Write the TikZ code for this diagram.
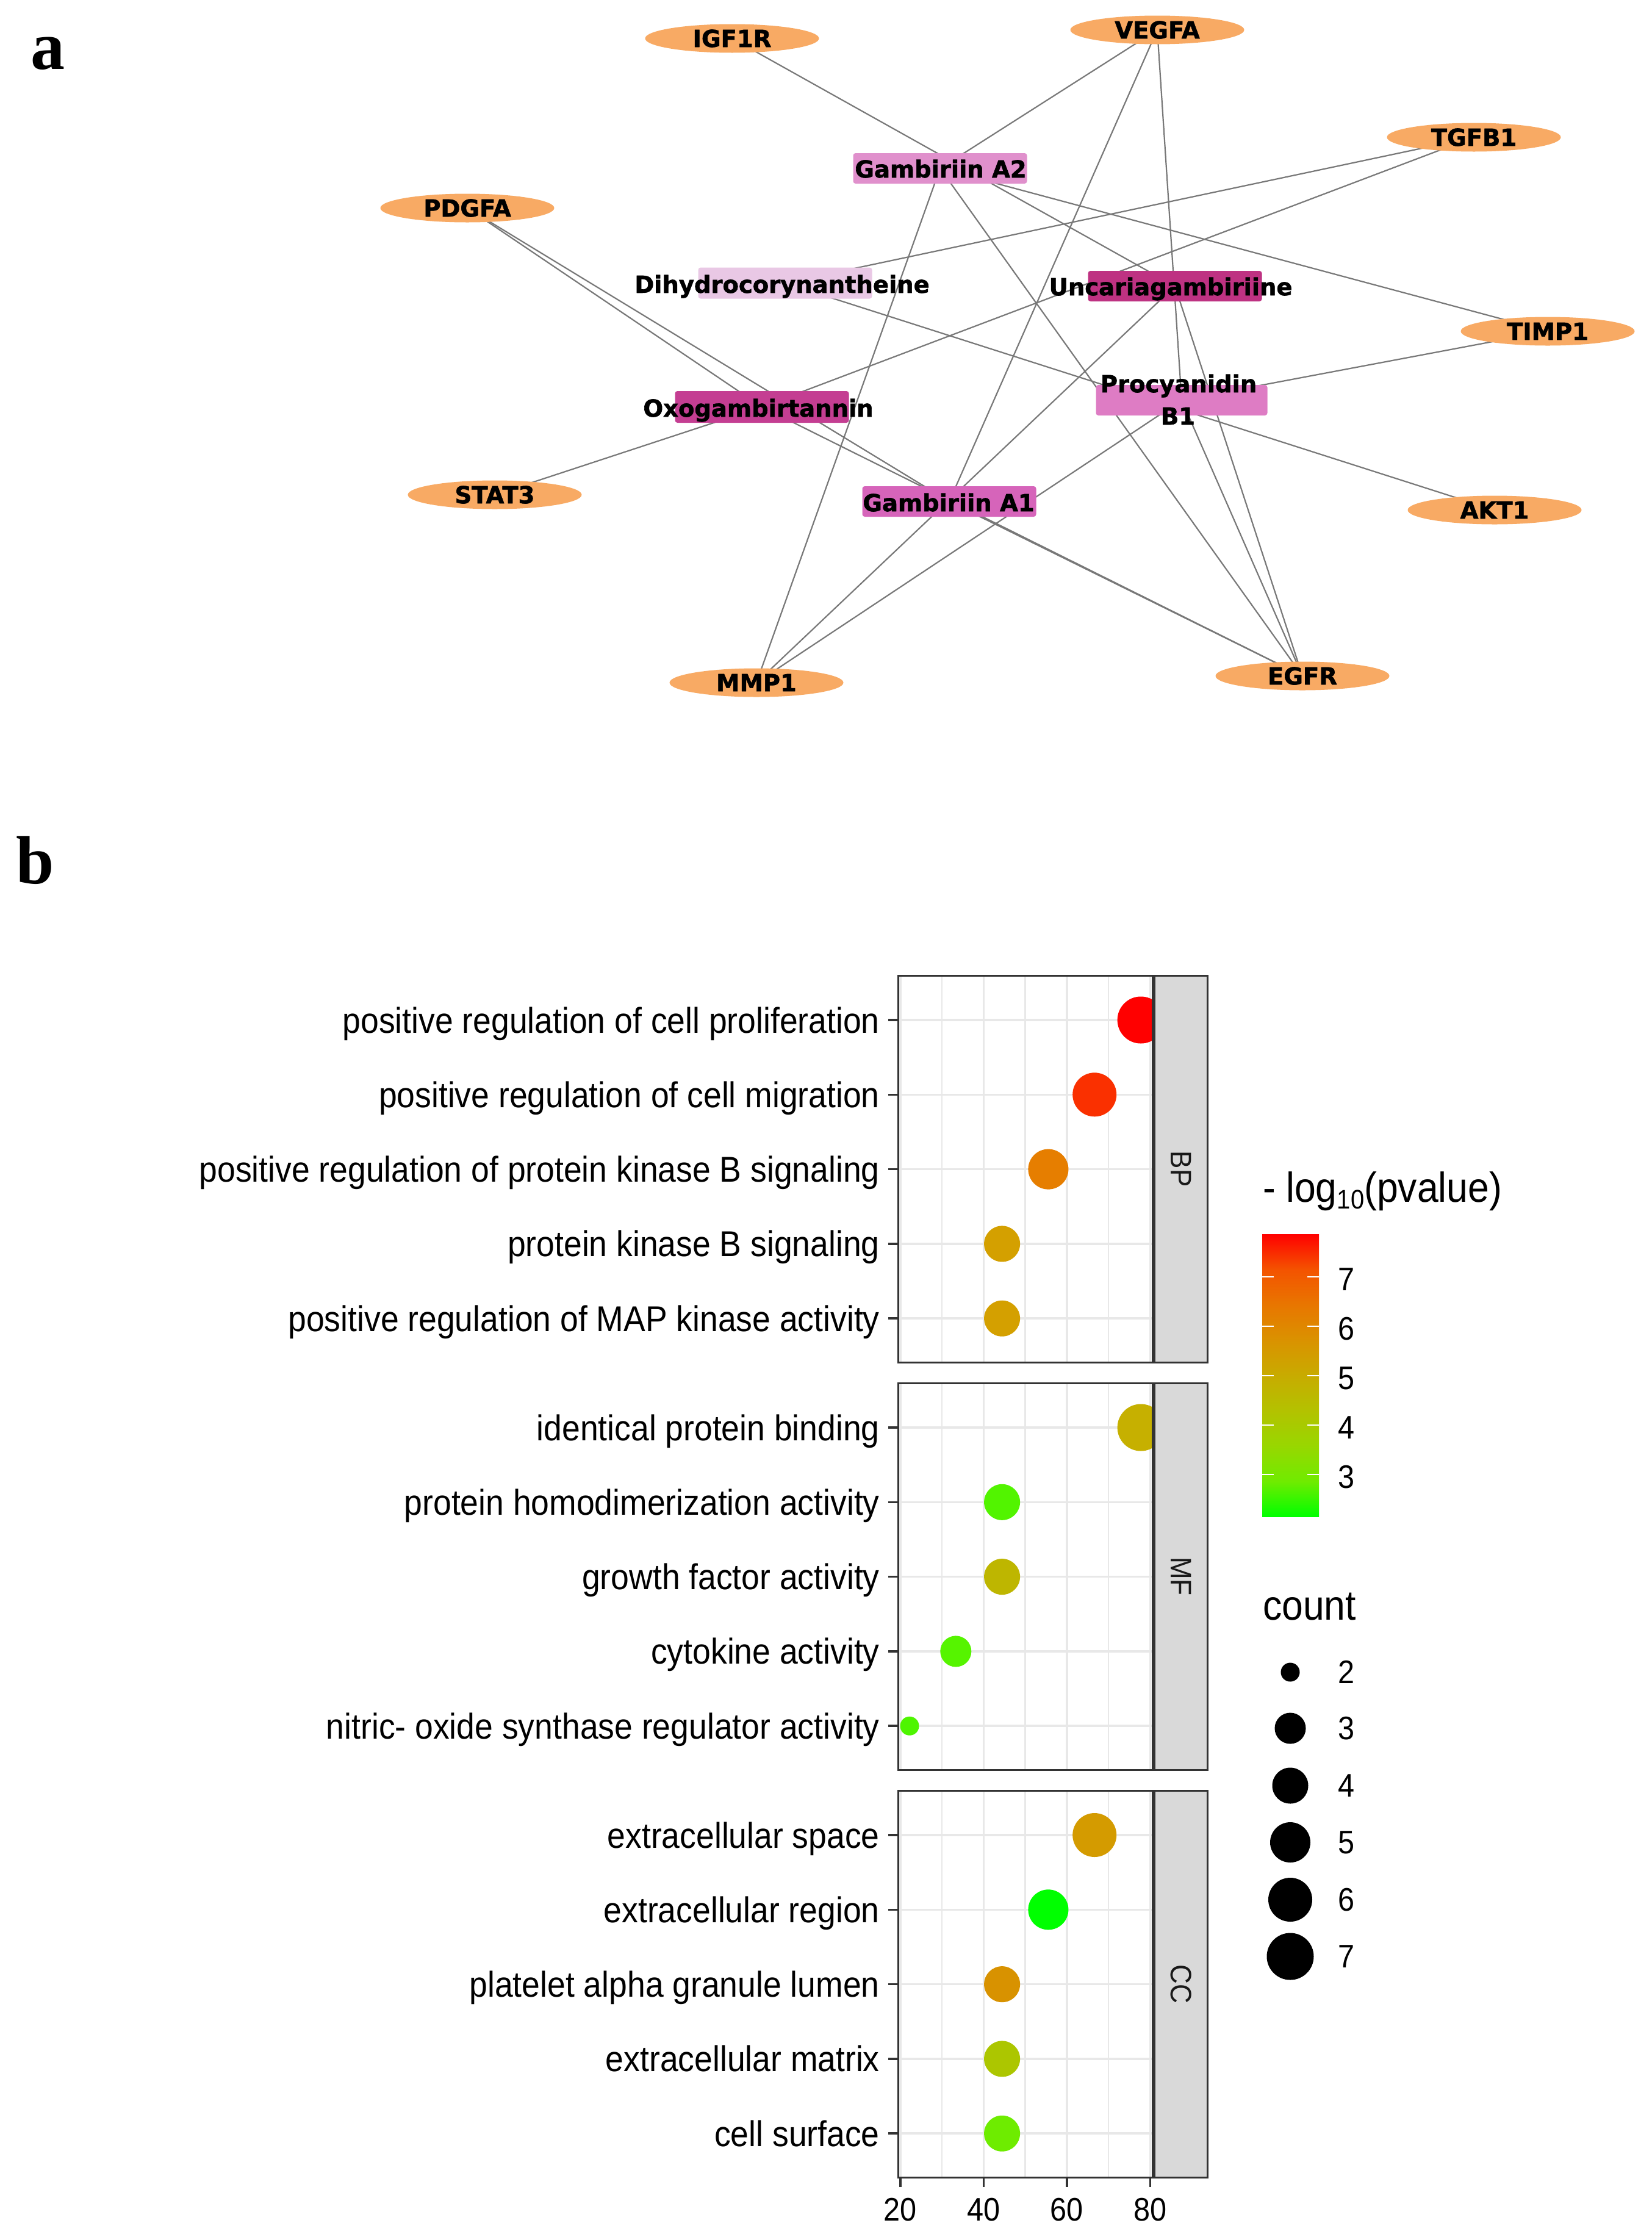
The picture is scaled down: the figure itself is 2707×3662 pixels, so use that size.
\documentclass[tikz,border=0pt]{standalone}
\usepackage{fontspec}
\usepackage{graphicx}
\setmainfont{Liberation Sans}
\newfontfamily\netfont{DejaVu Sans}[BoldFeatures={FakeBold=1.5}]
\newfontfamily\panelfont{Liberation Serif}
\usetikzlibrary{shapes.geometric,backgrounds}

\definecolor{tgtorange}{RGB}{248,170,100}
\definecolor{cGAtwo}{RGB}{224,144,204}
\definecolor{cDihy}{RGB}{233,200,229}
\definecolor{cUnca}{RGB}{190,50,130}
\definecolor{cOxo}{RGB}{196,62,146}
\definecolor{cGAone}{RGB}{214,100,186}
\definecolor{cProc}{RGB}{222,124,196}
\definecolor{edgegray}{RGB}{120,120,120}
\definecolor{gridgray}{RGB}{232,232,232}
\definecolor{bordergray}{RGB}{51,51,51}
\definecolor{stripgray}{RGB}{217,217,217}
% dot colours
\definecolor{dProl}{RGB}{255,0,0}
\definecolor{dMigr}{RGB}{250,48,0}
\definecolor{dPkbp}{RGB}{230,126,0}
\definecolor{dPkbs}{RGB}{212,160,0}
\definecolor{dMap}{RGB}{212,160,0}
\definecolor{dIden}{RGB}{198,176,0}
\definecolor{dHomo}{RGB}{82,244,0}
\definecolor{dGrow}{RGB}{190,182,0}
\definecolor{dCyto}{RGB}{86,244,0}
\definecolor{dNitr}{RGB}{78,245,0}
\definecolor{dSpac}{RGB}{212,155,0}
\definecolor{dRegi}{RGB}{0,255,0}
\definecolor{dLume}{RGB}{216,146,0}
\definecolor{dMatr}{RGB}{172,198,0}
\definecolor{dSurf}{RGB}{110,236,0}

\pgfdeclareverticalshading{pvbar}{100bp}{rgb(0bp)=(0,1,0); rgb(25bp)=(0,1,0); rgb(31.25bp)=(0.439,0.922,0); rgb(37.5bp)=(0.596,0.843,0); rgb(43.75bp)=(0.702,0.761,0); rgb(50bp)=(0.784,0.671,0); rgb(56.25bp)=(0.855,0.573,0); rgb(62.5bp)=(0.910,0.463,0); rgb(68.75bp)=(0.957,0.325,0); rgb(75bp)=(1,0,0); rgb(100bp)=(1,0,0)}

\newcommand{\tall}[1]{\scalebox{1}[1.1]{#1}}
\newcommand{\xv}[1]{1472+(#1-19.444)*6.824}

\begin{document}
\begin{tikzpicture}[x=1pt,y=-1pt,
  tgtnode/.style={ellipse, fill=tgtorange, minimum width=285pt, minimum height=47pt, inner sep=0pt, font={\netfont\bfseries\fontsize{38.5}{40}\selectfont}},
  cmpbox/.style={rectangle, rounded corners=4pt, minimum width=285pt, minimum height=50pt, inner sep=0pt},
  cmplabel/.style={anchor=base, inner sep=0pt, font={\netfont\bfseries\fontsize{38.5}{40}\selectfont}},
  edge/.style={draw=edgegray, line width=2.2pt},
  gridmaj/.style={draw=gridgray, line width=3.5pt},
  gridmin/.style={draw=gridgray, line width=2.4pt},
  frame/.style={draw=bordergray, line width=3pt},
  axtick/.style={draw=bordergray, line width=3.5pt},
  ylab/.style={anchor=base east, inner sep=0pt, font={\fontsize{53.5}{60}\selectfont}},
  xlab/.style={anchor=center, inner sep=0pt, font={\fontsize{48.6}{55}\selectfont}},
  leglab/.style={anchor=west, inner sep=0pt, font={\fontsize{48.6}{55}\selectfont}},
  legtitle/.style={anchor=base west, inner sep=0pt, font={\fontsize{62.5}{70}\selectfont}},
  striplab/.style={rotate=-90, inner sep=0pt, text=black!90, font={\fontsize{44}{50}\selectfont}},
  panellab/.style={anchor=base west, inner sep=0pt, font={\panelfont\bfseries\fontsize{112}{112}\selectfont}}
]
\useasboundingbox (0,0) rectangle (2707,3662);

% ---------------- panel labels
\node[panellab] (lbla) at (50,113) {a};
\node[panellab] (lblb) at (26,1448) {b};

% ---------------- network: targets
\node[tgtnode] (igf1r) at (1200,63) {IGF1R};
\node[tgtnode] (vegfa) at (1897,49) {VEGFA};
\node[tgtnode] (tgfb1) at (2416,225) {TGFB1};
\node[tgtnode] (pdgfa) at (766,341) {PDGFA};
\node[tgtnode] (timp1) at (2537,543) {TIMP1};
\node[tgtnode] (stat3) at (811,811) {STAT3};
\node[tgtnode] (akt1) at (2450,836) {AKT1};
\node[tgtnode] (mmp1) at (1240,1119) {MMP1};
\node[tgtnode] (egfr) at (2135,1108) {EGFR};

% ---------------- network: compounds
\node[cmpbox, fill=cGAtwo] (ga2) at (1541,276) {};
\node[cmplabel] (ga2t) at (1542,291) {Gambiriin A2};
\node[cmpbox, fill=cDihy, minimum height=51pt] (dihy) at (1287,464) {};
\node[cmplabel] (dihyt) at (1282,480) {Dihydrocorynantheine};
\node[cmpbox, fill=cUnca] (unca) at (1926,469) {};
\node[cmplabel] (uncat) at (1919,484) {Uncariagambiriine};
\node[cmpbox, fill=cOxo, minimum height=52pt] (oxo) at (1249,667) {};
\node[cmplabel] (oxot) at (1243,683) {Oxogambirtannin};
\node[cmpbox, fill=cGAone] (ga1) at (1556,822) {};
\node[cmplabel] (ga1t) at (1555,838) {Gambiriin A1};
\node[cmpbox, fill=cProc, minimum width=281pt] (proc) at (1937,656) {};
\node[cmplabel] (proct1) at (1932,643) {Procyanidin};
\node[cmplabel] (proct2) at (1931,696) {B1};

\begin{pgfonlayer}{background}
\fill[white] (0,0) rectangle (2707,3662);
\draw[edge] (igf1r.center) -- (unca.center);
\draw[edge] (vegfa.center) -- (ga2.center);
\draw[edge] (vegfa.center) -- (ga1.center);
\draw[edge] (vegfa.center) -- (proc.center);
\draw[edge] (tgfb1.center) -- (dihy.center);
\draw[edge] (tgfb1.center) -- (oxo.center);
\draw[edge] (pdgfa.center) -- (oxo.center);
\draw[edge] (pdgfa.center) -- (ga1.center);
\draw[edge] (timp1.center) -- (ga2.center);
\draw[edge] (timp1.center) -- (proc.center);
\draw[edge] (stat3.center) -- (oxo.center);
\draw[edge] (akt1.center) -- (dihy.center);
\draw[edge] (mmp1.center) -- (ga2.center);
\draw[edge] (mmp1.center) -- (unca.center);
\draw[edge] (mmp1.center) -- (proc.center);
\draw[edge] (egfr.center) -- (ga1.center);
\draw[edge] (egfr.center) -- (oxo.center);
\draw[edge] (egfr.center) -- (ga2.center);
\draw[edge] (egfr.center) -- (proc.center);
\draw[edge] (egfr.center) -- (unca.center);
\end{pgfonlayer}

% ---------------- panel b: grid
\foreach \t in {1599,2267,2935}{
  \foreach \v in {30,50,70} \draw[gridmin] ({\xv{\v}},\t) -- ({\xv{\v}},{\t+634});
  \foreach \v in {20,40,60,80} \draw[gridmaj] ({\xv{\v}},\t) -- ({\xv{\v}},{\t+634});
  \foreach \i in {0,...,4} \draw[gridmaj] (1472,{\t+73+\i*122.3}) -- (1889,{\t+73+\i*122.3});
}

% ---------------- dots (clipped to panels)
\begin{scope}
\clip (1472,1599) rectangle (1889,2233);
\fill[dProl] (1870.1,1672) circle[radius=38.5pt];
\fill[dMigr] (1794.2,1794.3) circle[radius=36pt];
\fill[dPkbp] (1718.4,1916.6) circle[radius=33pt];
\fill[dPkbs] (1642.6,2038.9) circle[radius=29.5pt];
\fill[dMap] (1642.6,2161.2) circle[radius=29.5pt];
\end{scope}
\begin{scope}
\clip (1472,2267) rectangle (1889,2901);
\fill[dIden] (1870.1,2340) circle[radius=38.5pt];
\fill[dHomo] (1642.6,2462.3) circle[radius=29.5pt];
\fill[dGrow] (1642.6,2584.6) circle[radius=29.5pt];
\fill[dCyto] (1566.8,2706.9) circle[radius=25.5pt];
\fill[dNitr] (1491,2829.2) circle[radius=15.5pt];
\end{scope}
\begin{scope}
\clip (1472,2935) rectangle (1889,3569);
\fill[dSpac] (1794.2,3008) circle[radius=36pt];
\fill[dRegi] (1718.4,3130.3) circle[radius=33pt];
\fill[dLume] (1642.6,3252.6) circle[radius=29.5pt];
\fill[dMatr] (1642.6,3374.9) circle[radius=29.5pt];
\fill[dSurf] (1642.6,3497.2) circle[radius=29.5pt];
\end{scope}

% ---------------- frames, strips, ticks
\foreach \t/\lab in {1599/BP,2267/MF,2935/CC}{
  \draw[frame] (1472,\t) rectangle (1889,{\t+634});
  \draw[frame, fill=stripgray] (1892.5,\t) rectangle (1979,{\t+634});
  \node[striplab] (strip\lab) at (1935.75,{\t+317}) {\tall{\lab}};
  \foreach \i in {0,...,4} \draw[axtick] (1456,{\t+73+\i*122.3}) -- (1472,{\t+73+\i*122.3});
}
\foreach \v in {20,40,60,80}{
  \draw[axtick] ({\xv{\v}},3569) -- ({\xv{\v}},3585);
  \node[xlab] (xt\v) at ({\xv{\v}},3622) {\tall{\v}};
}

% ---------------- y labels (baseline below row centre)
\node[ylab] (bp1) at (1442,1693) {\tall{positive regulation of cell proliferation}};
\node[ylab] (bp2) at (1442,1815.3) {\tall{positive regulation of cell migration}};
\node[ylab] (bp3) at (1442,1937.6) {\tall{positive regulation of protein kinase B signaling}};
\node[ylab] (bp4) at (1442,2059.9) {\tall{protein kinase B signaling}};
\node[ylab] (bp5) at (1442,2182.2) {\tall{positive regulation of MAP kinase activity}};
\node[ylab] (mf1) at (1442,2361) {\tall{identical protein binding}};
\node[ylab] (mf2) at (1442,2483.3) {\tall{protein homodimerization activity}};
\node[ylab] (mf3) at (1442,2605.6) {\tall{growth factor activity}};
\node[ylab] (mf4) at (1442,2727.9) {\tall{cytokine activity}};
\node[ylab] (mf5) at (1442,2850.2) {\tall{nitric- oxide synthase regulator activity}};
\node[ylab] (cc1) at (1442,3029) {\tall{extracellular space}};
\node[ylab] (cc2) at (1442,3151.3) {\tall{extracellular region}};
\node[ylab] (cc3) at (1442,3273.6) {\tall{platelet alpha granule lumen}};
\node[ylab] (cc4) at (1442,3395.9) {\tall{extracellular matrix}};
\node[ylab] (cc5) at (1442,3518.2) {\tall{cell surface}};

% ---------------- legend: colour bar
\node[legtitle] (pvtitle) at (2070,1970) {\tall{- log\raisebox{-10pt}{\fontsize{40}{40}\selectfont 10}(pvalue)}};
\shade[shading=pvbar] (2069,2023) rectangle (2162,2486);
\foreach \k/\yy in {7/2093,6/2174,5/2255,4/2336,3/2417}{
  \draw[white, line width=2pt] (2069,\yy) -- (2088,\yy);
  \draw[white, line width=2pt] (2143,\yy) -- (2162,\yy);
  \node[leglab] (pv\k) at (2193,{\yy+4}) {\tall{\k}};
}

% ---------------- legend: count
\node[legtitle] (cnttitle) at (2070,2655) {\tall{count}};
\foreach \k/\yy/\r in {2/2741/15.5,3/2833/25.5,4/2927/29.5,5/3020/33,6/3114/36,7/3207/38.5}{
  \fill[black] (2115,\yy) circle[radius=\r pt];
  \node[leglab] (cnt\k) at (2193,\yy) {\tall{\k}};
}
\end{tikzpicture}
\end{document}
